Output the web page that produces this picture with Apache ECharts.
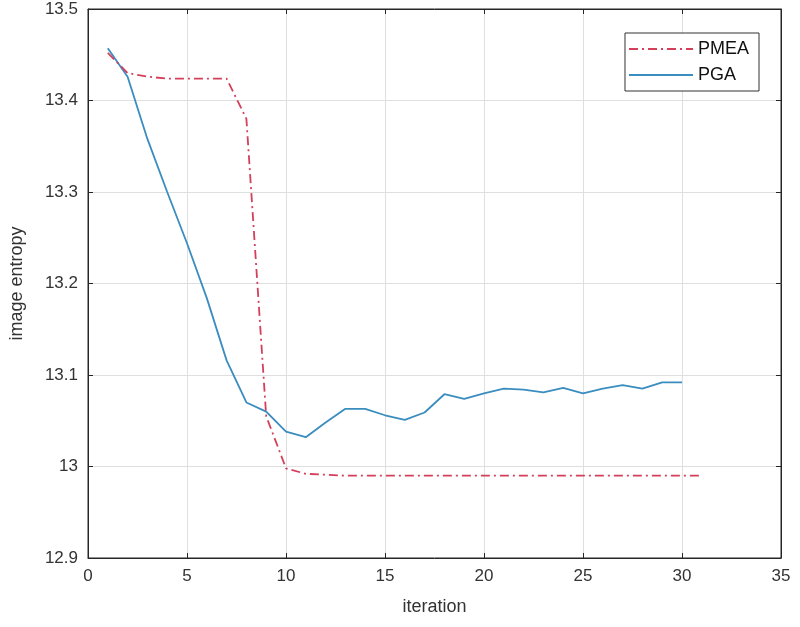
<!DOCTYPE html>
<html>
<head>
<meta charset="utf-8">
<script src="https://cdn.jsdelivr.net/npm/echarts@6/dist/echarts.min.js"></script>
<style>
  html, body { margin: 0; padding: 0; background: #fff; }
  #chart { width: 800px; height: 627px; }
</style>
</head>
<body>
<div id="chart"></div>
<script>
// iteration index for each series
const pmeaIter = [1, 2, 3, 4, 5, 6, 7, 8, 9, 10, 11, 12, 13, 14, 15, 16, 17, 18, 19, 20,
  21, 22, 23, 24, 25, 26, 27, 28, 29, 30, 31];
const pgaIter = [1, 2, 3, 4, 5, 6, 7, 8, 9, 10, 11, 12, 13, 14, 15, 16, 17, 18, 19, 20,
  21, 22, 23, 24, 25, 26, 27, 28, 29, 30];

// image entropy values
const pmeaValues = [13.452, 13.430, 13.426, 13.424, 13.424, 13.424, 13.424, 13.380, 13.055, 12.998,
  12.992, 12.991, 12.990, 12.990, 12.990, 12.990, 12.990, 12.990, 12.990, 12.990,
  12.990, 12.990, 12.990, 12.990, 12.990, 12.990, 12.990, 12.990, 12.990, 12.990, 12.990];
const pgaValues = [13.457, 13.426, 13.358, 13.300, 13.244, 13.184, 13.116, 13.070, 13.060, 13.038,
  13.032, 13.048, 13.063, 13.063, 13.056, 13.051, 13.059, 13.079, 13.074, 13.080,
  13.085, 13.084, 13.081, 13.086, 13.080, 13.085, 13.089, 13.085, 13.092, 13.092];

const seriesNames = ['PMEA', 'PGA'];
const xTicks = { min: 0, max: 35, interval: 5 };
const yTicks = { min: 12.9, max: 13.5, interval: 0.1 };

const textColor = '#333';
const axisLineColor = '#262626';
const gridColor = '#dfdfdf';
const font = 'Liberation Sans, Arial, sans-serif';

const chart = echarts.init(document.getElementById('chart'), null, { renderer: 'canvas' });

const zip = (xs, ys) => xs.map((x, i) => [x, ys[i]]);

// 主坐标轴 + 顶部/右侧只画刻度的副轴（MATLAB box on）
const baseAxis = {
  type: 'value',
  axisLine: { show: true, onZero: false, lineStyle: { color: axisLineColor, width: 1 } },
  axisTick: { show: true, inside: true, length: 5, lineStyle: { color: axisLineColor } },
};

const option = {
  backgroundColor: '#fff',
  animation: false,
  grid: {
    left: 88,
    right: 19,
    top: 9,
    bottom: 69,
    show: true,
    borderColor: axisLineColor,
    borderWidth: 1,
  },
  legend: {
    show: true,
    data: seriesNames,
    orient: 'vertical',
    right: 41,
    top: 33,
    itemWidth: 64,
    itemHeight: 14,
    itemGap: 8,
    padding: [7, 10, 7, 3],
    borderColor: '#333',
    borderWidth: 1,
    backgroundColor: '#fff',
    // 隐藏图例中的圆点，只保留线型
    itemStyle: { opacity: 0 },
    textStyle: {
      color: '#111',
      fontSize: 18,
      fontFamily: font,
    },
  },
  xAxis: [
    {
      ...baseAxis,
      position: 'bottom',
      min: xTicks.min,
      max: xTicks.max,
      interval: xTicks.interval,
      name: 'iteration',
      nameLocation: 'middle',
      nameGap: 40,
      nameTextStyle: { color: textColor, fontSize: 18, fontFamily: font },
      axisLabel: { color: textColor, fontSize: 17, margin: 10, fontFamily: font },
      splitLine: { show: true, lineStyle: { color: gridColor, width: 1 } },
    },
    {
      ...baseAxis,
      position: 'top',
      min: xTicks.min,
      max: xTicks.max,
      interval: xTicks.interval,
      axisLabel: { show: false },
      splitLine: { show: false },
    },
  ],
  yAxis: [
    {
      ...baseAxis,
      position: 'left',
      min: yTicks.min,
      max: yTicks.max,
      interval: yTicks.interval,
      name: 'image entropy',
      nameLocation: 'middle',
      nameGap: 62,
      nameTextStyle: { color: textColor, fontSize: 18, fontFamily: font },
      axisLabel: {
        color: textColor,
        fontSize: 17,
        margin: 10,
        fontFamily: font,
        formatter: (v) => String(Math.round(v * 10) / 10),
      },
      splitLine: { show: true, lineStyle: { color: gridColor, width: 1 } },
    },
    {
      ...baseAxis,
      position: 'right',
      min: yTicks.min,
      max: yTicks.max,
      interval: yTicks.interval,
      axisLabel: { show: false },
      splitLine: { show: false },
    },
  ],
  series: [
    {
      name: seriesNames[0],
      type: 'line',
      data: zip(pmeaIter, pmeaValues),
      showSymbol: false,
      symbol: 'none',
      itemStyle: { color: '#D43F5A' },
      lineStyle: { color: '#D43F5A', width: 1.8, type: [9, 4, 2, 4] },
      z: 3,
    },
    {
      name: seriesNames[1],
      type: 'line',
      data: zip(pgaIter, pgaValues),
      showSymbol: false,
      symbol: 'none',
      itemStyle: { color: '#3A8DBF' },
      lineStyle: { color: '#3A8DBF', width: 1.8 },
      z: 2,
    },
  ],
};

chart.setOption(option);
</script>
</body>
</html>
